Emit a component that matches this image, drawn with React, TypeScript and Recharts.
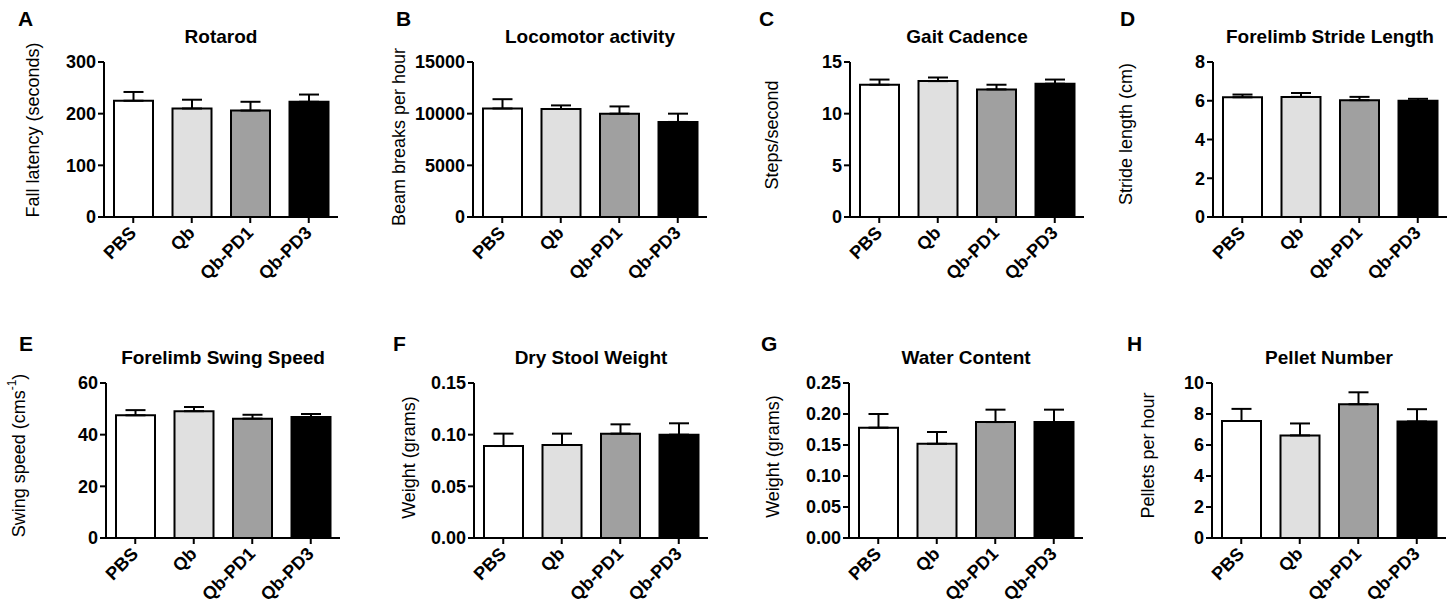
import React from 'react';
import { BarChart, Bar, XAxis, YAxis, ErrorBar, Cell } from 'recharts';

const GROUPS = ['PBS', 'Qb', 'Qb-PD1', 'Qb-PD3'];
const FILLS = ['#ffffff', '#e0e0e0', '#a0a0a0', '#000000'];

// mean and SEM, one array per measure
const rotarodMean = [225, 210, 206, 223];
const rotarodSem = [17, 17, 17, 14];
const locomotorMean = [10500, 10450, 10000, 9200];
const locomotorSem = [900, 350, 700, 800];
const cadenceMean = [12.8, 13.15, 12.35, 12.9];
const cadenceSem = [0.5, 0.35, 0.45, 0.4];
const strideMean = [6.18, 6.2, 6.03, 6.0];
const strideSem = [0.14, 0.2, 0.17, 0.1];
const swingMean = [47.5, 49.1, 46.2, 46.8];
const swingSem = [2.0, 1.6, 1.5, 1.2];
const dryMean = [0.089, 0.09, 0.101, 0.1];
const drySem = [0.012, 0.011, 0.009, 0.011];
const waterMean = [0.178, 0.152, 0.187, 0.187];
const waterSem = [0.022, 0.019, 0.02, 0.02];
const pelletMean = [7.55, 6.62, 8.63, 7.52];
const pelletSem = [0.78, 0.77, 0.77, 0.79];

const rotarodTicks = [0, 100, 200, 300];
const locomotorTicks = [0, 5000, 10000, 15000];
const cadenceTicks = [0, 5, 10, 15];
const strideTicks = [0, 2, 4, 6, 8];
const swingTicks = [0, 20, 40, 60];
const dryTicks = [0, 0.05, 0.1, 0.15];
const waterTicks = [0, 0.05, 0.1, 0.15, 0.2, 0.25];
const pelletTicks = [0, 2, 4, 6, 8, 10];

const FONT = '"Liberation Sans", Arial, Helvetica, sans-serif';

const Y_W = 104;
const TOP = 56;
const RIGHT = 4;
const PLOT_W = 234;
const PLOT_H = 155;
const X_H = 80;

interface PanelSpec {
  letter: string;
  title: string;
  yLabel: string;
  yLabelSup?: string;
  yLabelTail?: string;
  mean: number[];
  sem: number[];
  ticks: number[];
  decimals: number;
  axisX: number;
  plotTop: number;
  labelX: number;
  labelY: number;
  letterX: number;
  letterY: number;
}

const panels: PanelSpec[] = [
  { letter: 'A', title: 'Rotarod', yLabel: 'Fall latency (seconds)', mean: rotarodMean, sem: rotarodSem, ticks: rotarodTicks, decimals: 0, axisX: 104, plotTop: 62, labelX: 33, labelY: 130, letterX: 18, letterY: 26 },
  { letter: 'B', title: 'Locomotor activity', yLabel: 'Beam breaks per hour', mean: locomotorMean, sem: locomotorSem, ticks: locomotorTicks, decimals: 0, axisX: 473, plotTop: 62, labelX: 399, labelY: 137, letterX: 396, letterY: 26 },
  { letter: 'C', title: 'Gait Cadence', yLabel: 'Steps/second', mean: cadenceMean, sem: cadenceSem, ticks: cadenceTicks, decimals: 0, axisX: 850, plotTop: 62, labelX: 772, labelY: 135, letterX: 759, letterY: 26 },
  { letter: 'D', title: 'Forelimb Stride Length', yLabel: 'Stride length (cm)', mean: strideMean, sem: strideSem, ticks: strideTicks, decimals: 0, axisX: 1213, plotTop: 62, labelX: 1126, labelY: 134, letterX: 1120, letterY: 26 },
  { letter: 'E', title: 'Forelimb Swing Speed', yLabel: 'Swing speed (cms', yLabelSup: '-1', yLabelTail: ')', mean: swingMean, sem: swingSem, ticks: swingTicks, decimals: 0, axisX: 106, plotTop: 382.5, labelX: 19, labelY: 455, letterX: 19, letterY: 351 },
  { letter: 'F', title: 'Dry Stool Weight', yLabel: 'Weight (grams)', mean: dryMean, sem: drySem, ticks: dryTicks, decimals: 2, axisX: 474, plotTop: 382.5, labelX: 409, labelY: 457, letterX: 393, letterY: 351 },
  { letter: 'G', title: 'Water Content', yLabel: 'Weight (grams)', mean: waterMean, sem: waterSem, ticks: waterTicks, decimals: 2, axisX: 849, plotTop: 382.5, labelX: 773, labelY: 456, letterX: 761, letterY: 351 },
  { letter: 'H', title: 'Pellet Number', yLabel: 'Pellets per hour', mean: pelletMean, sem: pelletSem, ticks: pelletTicks, decimals: 0, axisX: 1212, plotTop: 382.5, labelX: 1148, labelY: 455, letterX: 1127, letterY: 351 },
];

// category names written diagonally, ending just under their tick
function CategoryTick(props: any) {
  const { x, y, payload } = props;
  return (
    <g transform={`translate(${x + 4},${y + 9})`}>
      <text textAnchor="end" transform="rotate(-45)" fill="#000" fontSize={18} fontWeight="bold">
        {payload.value}
      </text>
    </g>
  );
}

function YLabelText(props: any) {
  const { cx, cy, text, sup, tail } = props;
  return (
    <text
      x={cx}
      y={cy}
      transform={`rotate(-90, ${cx}, ${cy})`}
      textAnchor="middle"
      dominantBaseline="central"
      fill="#000"
      fontSize={18}
    >
      {text}
      {sup && (
        <tspan fontSize={12} dy={-7}>
          {sup}
        </tspan>
      )}
      {tail && <tspan dy={sup ? 7 : 0}>{tail}</tspan>}
    </text>
  );
}

function Panel({ spec }: { spec: PanelSpec }) {
  const data = GROUPS.map((g, i) => ({ group: g, mean: spec.mean[i], err: [0, spec.sem[i]] }));
  const left = spec.axisX - Y_W;
  const top = spec.plotTop - TOP;
  const max = spec.ticks[spec.ticks.length - 1];
  const axisStyle = { stroke: '#000', strokeWidth: 2 };
  return (
    <div style={{ position: 'absolute', left, top }}>
      <BarChart
        width={Y_W + PLOT_W + RIGHT}
        height={TOP + PLOT_H + X_H}
        data={data}
        margin={{ top: TOP, right: RIGHT, left: 0, bottom: 0 }}
        barSize={39}
      >
        <XAxis
          dataKey="group"
          height={X_H}
          interval={0}
          axisLine={axisStyle}
          tickLine={axisStyle}
          tickSize={6}
          tick={<CategoryTick />}
        />
        <YAxis
          width={Y_W}
          domain={[0, max]}
          ticks={spec.ticks}
          interval={0}
          axisLine={axisStyle}
          tickLine={axisStyle}
          tickSize={6}
          tickMargin={2}
          tick={{ fill: '#000', fontSize: 18, fontWeight: 'bold' }}
          tickFormatter={(v: number) => v.toFixed(spec.decimals)}
          label={
            <YLabelText
              cx={spec.labelX - left}
              cy={spec.labelY - top}
              text={spec.yLabel}
              sup={spec.yLabelSup}
              tail={spec.yLabelTail}
            />
          }
        />
        <Bar dataKey="mean" stroke="#000" strokeWidth={2} isAnimationActive={false}>
          {data.map((d, i) => (
            <Cell key={d.group} fill={FILLS[i]} />
          ))}
          <ErrorBar dataKey="err" direction="y" width={10} stroke="#000" strokeWidth={2} />
        </Bar>
      </BarChart>
    </div>
  );
}

export default function App() {
  return (
    <div
      style={{
        position: 'absolute',
        left: 0,
        top: 0,
        width: 1452,
        height: 605,
        overflow: 'hidden',
        background: '#fff',
        fontFamily: FONT,
      }}
    >
      {panels.map((p) => (
        <Panel key={p.letter} spec={p} />
      ))}
      <svg width={1452} height={605} style={{ position: 'absolute', left: 0, top: 0, pointerEvents: 'none' }}>
        {panels.map((p) => (
          <g key={p.letter}>
            <text x={p.letterX} y={p.letterY} fontSize={21} fontWeight="bold" fill="#000">
              {p.letter}
            </text>
            <text
              x={p.axisX + PLOT_W / 2}
              y={p.plotTop - 19}
              textAnchor="middle"
              fontSize={19}
              fontWeight="bold"
              fill="#000"
            >
              {p.title}
            </text>
          </g>
        ))}
      </svg>
    </div>
  );
}
